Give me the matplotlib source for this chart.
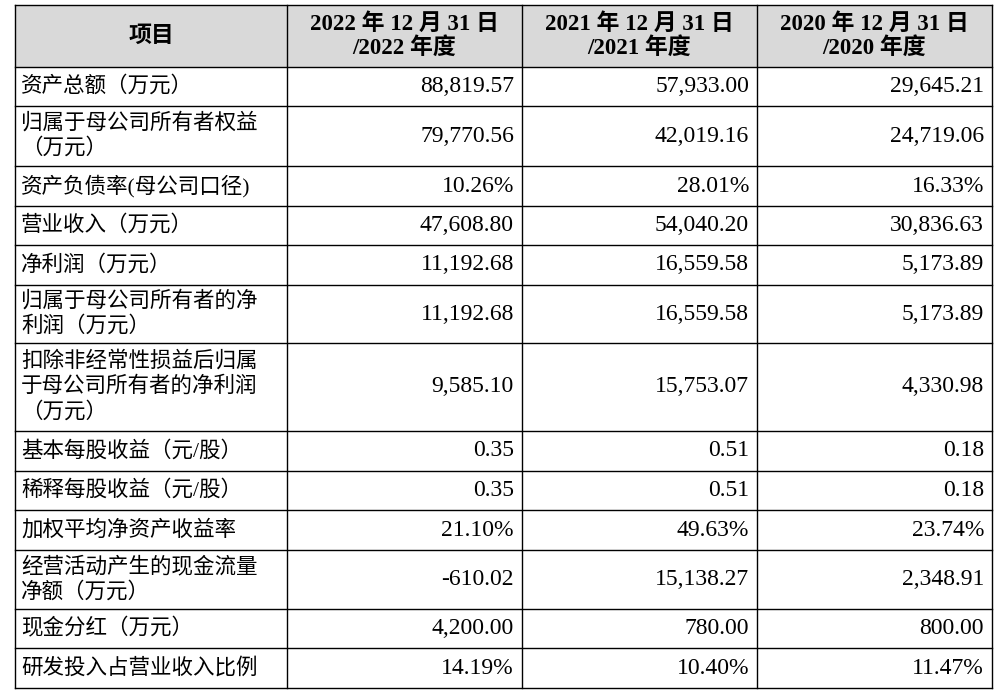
import matplotlib.pyplot as plt

plt.rcParams['font.family'] = ['Liberation Serif', 'Noto Sans CJK SC']

headers = ["项目", "2022 年 12 月 31 日\n/2022 年度", "2021 年 12 月 31 日\n/2021 年度",
           "2020 年 12 月 31 日\n/2020 年度"]
items = ["资产总额（万元）", "归属于母公司所有者权益\n（万元）", "资产负债率(母公司口径)",
         "营业收入（万元）", "净利润（万元）", "归属于母公司所有者的净\n利润（万元）",
         "扣除非经常性损益后归属\n于母公司所有者的净利润\n（万元）", "基本每股收益（元/股）",
         "稀释每股收益（元/股）", "加权平均净资产收益率", "经营活动产生的现金流量\n净额（万元）",
         "现金分红（万元）", "研发投入占营业收入比例"]
v2022 = ["88,819.57", "79,770.56", "10.26%", "47,608.80", "11,192.68", "11,192.68", "9,585.10",
         "0.35", "0.35", "21.10%", "-610.02", "4,200.00", "14.19%"]
v2021 = ["57,933.00", "42,019.16", "28.01%", "54,040.20", "16,559.58", "16,559.58", "15,753.07",
         "0.51", "0.51", "49.63%", "15,138.27", "780.00", "10.40%"]
v2020 = ["29,645.21", "24,719.06", "16.33%", "30,836.63", "5,173.89", "5,173.89", "4,330.98",
         "0.18", "0.18", "23.74%", "2,348.91", "800.00", "11.47%"]

col_x = [15, 287, 522, 757, 992]
row_y = [5, 67, 106, 166, 206, 245, 285, 343, 431, 471, 510, 550, 609, 648, 688]

fig = plt.figure(figsize=(10, 6.92), dpi=100)
ax = fig.add_axes([0, 0, 1, 1])
ax.set_xlim(0, 1000)
ax.set_ylim(692, 0)
ax.axis("off")

ax.add_patch(plt.Rectangle((col_x[0], row_y[0]), col_x[-1] - col_x[0], row_y[1] - row_y[0],
                           facecolor="#d9d9d9", edgecolor="none"))
for y in row_y:
    ax.plot([col_x[0], col_x[-1]], [y, y], color="black", lw=1)
for x in col_x:
    ax.plot([x, x], [row_y[0], row_y[-1]], color="black", lw=1)

for i, h in enumerate(headers):
    ax.text((col_x[i] + col_x[i + 1]) / 2, (row_y[0] + row_y[1]) / 2, h, ha="center", va="center",
            fontsize=16.5, fontweight="bold", linespacing=1.15)

for r, item in enumerate(items):
    yc = (row_y[r + 1] + row_y[r + 2]) / 2
    ax.text(col_x[0] + 6, yc, item, ha="left", va="center", fontsize=15.5, linespacing=1.3)
    for c, vals in enumerate([v2022, v2021, v2020]):
        ax.text(col_x[c + 2] - 8, yc, vals[r], ha="right", va="center", fontsize=17)

fig.savefig("out.png", dpi=100)
